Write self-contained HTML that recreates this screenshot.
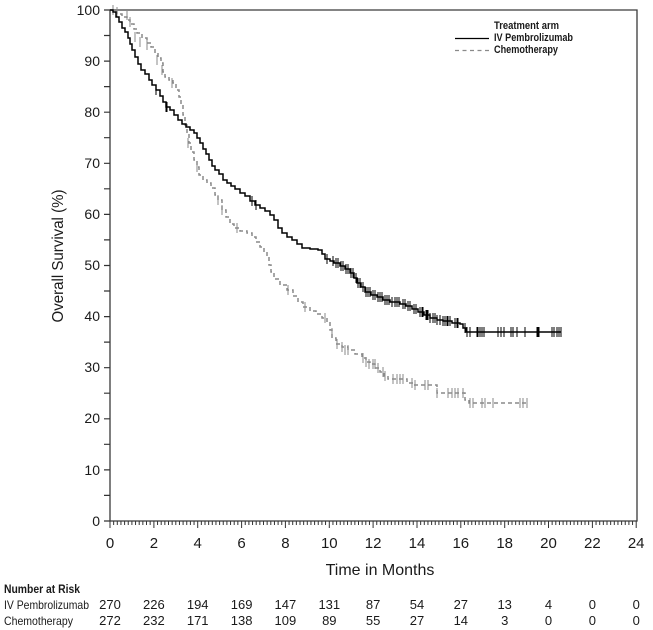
<!DOCTYPE html>
<html>
<head>
<meta charset="utf-8">
<style>
html,body{margin:0;padding:0;background:#fff;}
svg{display:block;}
text{font-family:"Liberation Sans",Arial,sans-serif;fill:#1a1a1a;}
</style>
</head>
<body>
<svg width="653" height="630" viewBox="0 0 653 630" xmlns="http://www.w3.org/2000/svg">
<rect width="653" height="630" fill="#fff"/>

<!-- frame -->
<g stroke="#3a3a3a" stroke-width="1.3" fill="none">
<path d="M110 10 H637 V521 H110 Z"/>
</g>

<!-- y ticks -->
<g stroke="#333" stroke-width="1.2">
<path d="M104 10H110M104 35.5H110M104 61.1H110M104 86.6H110M104 112.2H110M104 137.7H110M104 163.3H110M104 188.8H110M104 214.4H110M104 239.9H110M104 265.5H110M104 291H110M104 316.6H110M104 342.1H110M104 367.7H110M104 393.2H110M104 418.8H110M104 444.3H110M104 469.9H110M104 495.4H110M104 521H110"/>
</g>

<!-- x ticks -->
<g stroke="#333" stroke-width="1">
<path d="M110 521V528M153.9 521V528M197.7 521V528M241.6 521V528M285.4 521V528M329.3 521V528M373.1 521V528M417 521V528M460.8 521V528M504.7 521V528M548.5 521V528M592.4 521V528M636.2 521V528"/>
<path d="M113.65 521v4M117.3 521v4M120.95 521v4M124.6 521v4M128.25 521v4M131.9 521v4M135.55 521v4M139.2 521v4M142.85 521v4M146.5 521v4M150.15 521v4
M157.55 521v4M161.2 521v4M164.85 521v4M168.5 521v4M172.15 521v4M175.8 521v4M179.45 521v4M183.1 521v4M186.75 521v4M190.4 521v4M194.05 521v4
M201.35 521v4M205 521v4M208.65 521v4M212.3 521v4M215.95 521v4M219.6 521v4M223.25 521v4M226.9 521v4M230.55 521v4M234.2 521v4M237.85 521v4
M245.25 521v4M248.9 521v4M252.55 521v4M256.2 521v4M259.85 521v4M263.5 521v4M267.15 521v4M270.8 521v4M274.45 521v4M278.1 521v4M281.75 521v4
M289.05 521v4M292.7 521v4M296.35 521v4M300 521v4M303.65 521v4M307.3 521v4M310.95 521v4M314.6 521v4M318.25 521v4M321.9 521v4M325.55 521v4
M332.95 521v4M336.6 521v4M340.25 521v4M343.9 521v4M347.55 521v4M351.2 521v4M354.85 521v4M358.5 521v4M362.15 521v4M365.8 521v4M369.45 521v4
M376.75 521v4M380.4 521v4M384.05 521v4M387.7 521v4M391.35 521v4M395 521v4M398.65 521v4M402.3 521v4M405.95 521v4M409.6 521v4M413.25 521v4
M420.65 521v4M424.3 521v4M427.95 521v4M431.6 521v4M435.25 521v4M438.9 521v4M442.55 521v4M446.2 521v4M449.85 521v4M453.5 521v4M457.15 521v4
M464.45 521v4M468.1 521v4M471.75 521v4M475.4 521v4M479.05 521v4M482.7 521v4M486.35 521v4M490 521v4M493.65 521v4M497.3 521v4M500.95 521v4
M508.35 521v4M512 521v4M515.65 521v4M519.3 521v4M522.95 521v4M526.6 521v4M530.25 521v4M533.9 521v4M537.55 521v4M541.2 521v4M544.85 521v4
M552.15 521v4M555.8 521v4M559.45 521v4M563.1 521v4M566.75 521v4M570.4 521v4M574.05 521v4M577.7 521v4M581.35 521v4M585 521v4M588.65 521v4
M596.05 521v4M599.7 521v4M603.35 521v4M607 521v4M610.65 521v4M614.3 521v4M617.95 521v4M621.6 521v4M625.25 521v4M628.9 521v4M632.55 521v4"/>
</g>

<!-- y labels -->
<g font-size="14" text-anchor="end">
<text x="100" y="15">100</text>
<text x="100" y="66">90</text>
<text x="100" y="117">80</text>
<text x="100" y="168">70</text>
<text x="100" y="219">60</text>
<text x="100" y="270">50</text>
<text x="100" y="321">40</text>
<text x="100" y="372">30</text>
<text x="100" y="423">20</text>
<text x="100" y="475">10</text>
<text x="100" y="526">0</text>
</g>

<!-- x labels -->
<g font-size="15" text-anchor="middle">
<text x="110" y="548">0</text>
<text x="153.9" y="548">2</text>
<text x="197.7" y="548">4</text>
<text x="241.6" y="548">6</text>
<text x="285.4" y="548">8</text>
<text x="329.3" y="548">10</text>
<text x="373.1" y="548">12</text>
<text x="417" y="548">14</text>
<text x="460.8" y="548">16</text>
<text x="504.7" y="548">18</text>
<text x="548.5" y="548">20</text>
<text x="592.4" y="548">22</text>
<text x="636.2" y="548">24</text>
</g>

<text x="380" y="575" font-size="16" text-anchor="middle">Time in Months</text>
<text transform="translate(63,256) rotate(-90)" font-size="16" text-anchor="middle" textLength="133" lengthAdjust="spacingAndGlyphs">Overall Survival (%)</text>

<!-- legend -->
<text x="494" y="29" font-size="11" font-weight="bold" textLength="65" lengthAdjust="spacingAndGlyphs">Treatment arm</text>
<text x="494" y="41" font-size="11" font-weight="bold" textLength="79" lengthAdjust="spacingAndGlyphs">IV Pembrolizumab</text>
<text x="494" y="53" font-size="11" font-weight="bold" textLength="64" lengthAdjust="spacingAndGlyphs">Chemotherapy</text>
<line x1="455" y1="38.5" x2="489" y2="38.5" stroke="#000" stroke-width="1.3"/>
<line x1="455" y1="50.5" x2="489" y2="50.5" stroke="#8a8a8a" stroke-width="1.3" stroke-dasharray="4,3.5"/>

<!-- chemotherapy curve -->
<path fill="none" stroke="#8a8a8a" stroke-width="1.5" stroke-dasharray="4,3" d="M110 10 H114 V12 H117 V14 H122 V17 H127 V20 H130 V24 H134 V29 H137 V33 H142 V38 H147 V43 H151 V47 H155 V53 H158 V58 H161 V63 H163 V72 H165 V77 H169 V80 H173 V83 H176 V90 H179 V97 H181 V104 H183 V115 H185 V125 H187 V133 H189 V143 H191 V152 H194 V160 H197 V167 H199 V175 H203 V180 H207 V183 H211 V188 H215 V195 H218 V200 H222 V210 H226 V217 H230 V224 H234 V228 H240 V231 H247 V233 H252 V237 H256 V242 H260 V247 H264 V252 H267 V257 H269 V265 H271 V272 H274 V279 H280 V285 H287 V290 H293 V296 H298 V302 H303 V307 H310 V311 H316 V314 H322 V318 H327 V322 H330 V330 H332 V338 H336 V344 H342 V347 H348 V350 H355 V354 H362 V358 H366 V362 H370 V364 H375 V368 H380 V372 H384 V376 H388 V379 H407 V383 H413 V385 H437 V393 H465 V400 H469 V403 H528"/>

<!-- chemo censor marks -->
<path fill="none" stroke="#8a8a8a" stroke-width="1" d="
M113 5v10M117 7v10M127 10v10M130 17v10M135 32v10M140 37v10M147 40v10M157 55v10M162 65v10M172 78v10M188 138v10M197 162v10M218 195v10M222 205v10M237 223v10M288 285v10M305 302v10M325 313v10M332 328v10M337 339v10M342 342v10M345 345v10M348 345v10M363 353v10M366 357v10M369 359v10
M373 359v10M375 359v10M378 363v10M383 367v10M385 371v10M393 374v10M397 374v10M400 374v10M403 374v10M412 378v10M415 380v10M425 380v10M428 380v10M437 388v10M448 388v10M452 388v10M455 388v10M458 388v10M463 388v10M470 398v10M473 398v10M482 398v10M485 398v10M493 398v10M520 398v10M523 398v10M527 398v10"/>

<!-- pembrolizumab curve -->
<path fill="none" stroke="#000" stroke-width="1.5" d="M110 10 H113 V12 H116 V17 H119 V22 H122 V28 H125 V32 H128 V38 H130 V44 H132 V50 H135 V57 H138 V64 H141 V70 H145 V74 H149 V80 H152 V85 H156 V90 H160 V96 H163 V102 H166 V107 H170 V110 H174 V115 H178 V120 H182 V124 H186 V127 H190 V130 H194 V133 H197 V138 H200 V143 H203 V149 H206 V154 H209 V160 H212 V166 H215 V170 H219 V174 H223 V180 H227 V183 H231 V186 H235 V189 H240 V193 H245 V196 H250 V201 H255 V205 H260 V208 H265 V211 H270 V215 H274 V220 H278 V228 H282 V233 H287 V237 H292 V240 H297 V244 H302 V248 H310 V249 H318 V250 H322 V254 H325 V259 H330 V261 H334 V263 H340 V266 H345 V269 H350 V273 H354 V278 H357 V283 H361 V287 H365 V292 H371 V295 H377 V297 H383 V300 H390 V302 H400 V304 H406 V306 H412 V309 H418 V312 H424 V315 H430 V318 H437 V320 H443 V321 H452 V323 H460 V324 H463 V328 H466 V332 H561"/>

<!-- pembro censor marks -->
<path fill="none" stroke="#000" stroke-width="1" d="
M156 85v10M166 102v10M167 102v10M252 196v10M256 200v10
M327 254v10M333 256v10M336 258v10M338 258v10M341 261v10M343 261v10M346 264v10M348 264v10M351 268v10M353 268v10M356 273v10M358 278v10M360 278v10M363 282v10M366 287v10M368 287v10M370 287v10M373 290v10M375 290v10M378 292v10M380 292v10M382 292v10M385 295v10M387 295v10M389 295v10M392 297v10M395 297v10M397 297v10M399 297v10M403 299v10M405 299v10M408 301v10M410 301v10M414 304v10M416 304v10M420 307v10M422 307v10M423 307v10M426 310v10M427 310v10M428 310v10M430 313v10M433 313v10M435 313v10M437 315v10M440 315v10M443 316v10M445 316v10M447 316v10M448 316v10M450 316v10M455 318v10M457 318v10M458 318v10
M465 323v10M467 327v10M470 327v10M477 327v10M478 327v10M480 327v10M482 327v10M484 327v10M498 327v10M501 327v10M504 327v10M511 327v10M513 327v10M517 327v10M525 327v10M537 327v10M538 327v10M539 327v10M552 327v10M554 327v10M557 327v10M559 327v10M561 327v10"/>

<!-- number at risk -->
<text x="4" y="593" font-size="12" font-weight="bold" textLength="76" lengthAdjust="spacingAndGlyphs">Number at Risk</text>
<text x="4" y="609" font-size="12" textLength="85" lengthAdjust="spacingAndGlyphs">IV Pembrolizumab</text>
<text x="4" y="625" font-size="12" textLength="69" lengthAdjust="spacingAndGlyphs">Chemotherapy</text>
<g font-size="13" text-anchor="middle">
<text x="110" y="609">270</text>
<text x="153.9" y="609">226</text>
<text x="197.7" y="609">194</text>
<text x="241.6" y="609">169</text>
<text x="285.4" y="609">147</text>
<text x="329.3" y="609">131</text>
<text x="373.1" y="609">87</text>
<text x="417" y="609">54</text>
<text x="460.8" y="609">27</text>
<text x="504.7" y="609">13</text>
<text x="548.5" y="609">4</text>
<text x="592.4" y="609">0</text>
<text x="636.2" y="609">0</text>
<text x="110" y="625">272</text>
<text x="153.9" y="625">232</text>
<text x="197.7" y="625">171</text>
<text x="241.6" y="625">138</text>
<text x="285.4" y="625">109</text>
<text x="329.3" y="625">89</text>
<text x="373.1" y="625">55</text>
<text x="417" y="625">27</text>
<text x="460.8" y="625">14</text>
<text x="504.7" y="625">3</text>
<text x="548.5" y="625">0</text>
<text x="592.4" y="625">0</text>
<text x="636.2" y="625">0</text>
</g>
</svg>
</body>
</html>
